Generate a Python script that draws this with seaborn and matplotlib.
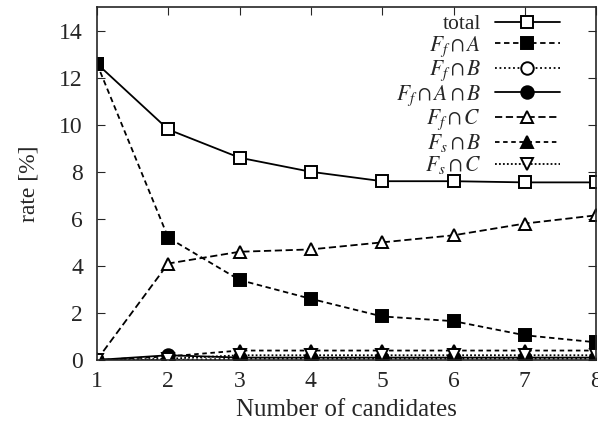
import matplotlib
matplotlib.use('Agg')
import matplotlib.pyplot as plt
import seaborn as sns
import pandas as pd

# number of candidates
candidates = [1, 2, 3, 4, 5, 6, 7, 8]

# rates in %
total = [12.6, 9.8, 8.6, 8.0, 7.6, 7.6, 7.55, 7.55]
ff_a = [12.6, 5.2, 3.4, 2.6, 1.85, 1.65, 1.05, 0.75]
ff_b = [0.0, 0.0, 0.05, 0.05, 0.05, 0.05, 0.05, 0.05]
ff_a_b = [0.0, 0.2, 0.1, 0.1, 0.1, 0.1, 0.1, 0.1]
ff_c = [0.0, 4.1, 4.6, 4.7, 5.0, 5.3, 5.8, 6.15]
fs_b = [0.0, 0.15, 0.4, 0.4, 0.4, 0.4, 0.4, 0.4]
fs_c = [0.0, 0.05, 0.2, 0.2, 0.2, 0.2, 0.2, 0.2]

labels = ['total', r'$F_f \cap A$', r'$F_f \cap B$', r'$F_f \cap A \cap B$',
          r'$F_f \cap C$', r'$F_s \cap B$', r'$F_s \cap C$']
series = [total, ff_a, ff_b, ff_a_b, ff_c, fs_b, fs_c]

sns.set_style('ticks')
plt.rcParams['font.family'] = ['Liberation Serif', 'DejaVu Serif']
plt.rcParams['mathtext.fontset'] = 'stix'

# (linestyle, marker, filled)
styles = [
    ('-', 's', False),
    ((0, (3, 2)), 's', True),
    ((0, (1, 1.5)), 'o', False),
    ('-', 'o', True),
    ((0, (4, 2)), '^', False),
    ((0, (2.5, 2)), '^', True),
    ((0, (1, 1.2)), 'v', False),
]

fig = plt.figure(figsize=(5.98, 4.21), dpi=100)
ax = fig.add_axes([0.162, 0.145, 0.835, 0.838])

for lab, vals, (ls, mk, filled) in zip(labels, series, styles):
    df = pd.DataFrame({'x': candidates, 'y': vals})
    sns.lineplot(data=df, x='x', y='y', ax=ax, color='black', linewidth=1.3,
                 linestyle=ls, marker=mk, markersize=9,
                 markerfacecolor='black' if filled else 'white',
                 markeredgecolor='black', markeredgewidth=1.4, label=lab)

ax.set_xlim(1, 8)
ax.set_ylim(0, 15)
ax.set_xticks(candidates)
ax.set_yticks([0, 2, 4, 6, 8, 10, 12, 14])
ax.tick_params(direction='in', top=True, right=True, length=6, labelsize=17)
ax.tick_params(axis='y', pad=10)
ax.tick_params(axis='x', pad=8)
for s in ax.spines.values():
    s.set_linewidth(1.2)
ax.set_xlabel('Number of candidates', fontsize=18, labelpad=5)
ax.set_ylabel('rate [%]', fontsize=17, labelpad=14)

leg = ax.legend(loc='upper right', frameon=False, markerfirst=False,
                handlelength=3.0, labelspacing=0.0, fontsize=15.5,
                borderaxespad=0.0, handletextpad=0.65,
                bbox_to_anchor=(0.944, 1.005))

fig.savefig('out.png', dpi=100)
